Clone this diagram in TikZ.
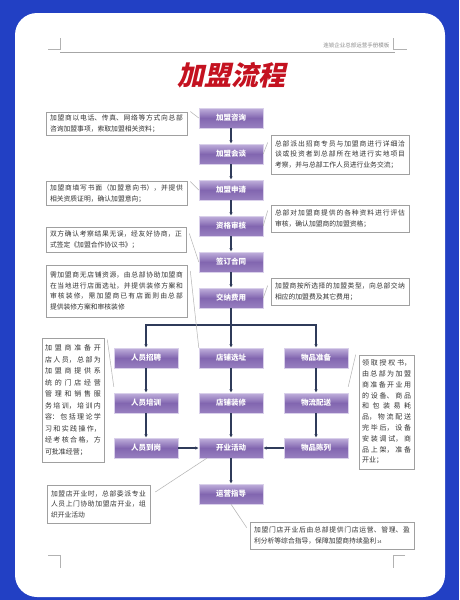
\documentclass[tikz,border=0pt]{standalone}
\usepackage{fontspec}
\setmainfont{Noto Sans CJK SC}
\newfontfamily\titlefont[FakeSlant=0.22]{Noto Sans CJK SC}
\usetikzlibrary{arrows.meta}
\XeTeXlinebreaklocale "zh"
\XeTeXlinebreakskip=0pt plus 4pt
\newcount\mycount
\newcount\mycountx
\definecolor{frameblue}{RGB}{34,64,196}
\definecolor{titlered}{RGB}{196,18,32}
\definecolor{stagetop}{RGB}{192,176,220}
\definecolor{stagemid}{RGB}{130,102,176}
\definecolor{stagebot}{RGB}{152,128,192}
\definecolor{flowline}{RGB}{47,59,90}
\definecolor{notegray}{RGB}{160,160,160}
\tikzset{
  stage/.style={draw=stagetop!60!white, line width=0.4pt, top color=stagetop,
    bottom color=stagebot, middle color=stagemid, minimum width=64pt,
    minimum height=20pt, inner sep=0pt, text=white,
    font=\fontsize{7.5}{8}\selectfont\bfseries},
  flow/.style={draw=flowline, line width=1.1pt, -{Latex[length=3.5pt,width=3.5pt]}},
  note/.style={draw=notegray, line width=0.6pt, fill=white, text=black!80,
    align=justify, inner xsep=4pt, inner ysep=3pt,
    font=\fontsize{6.8}{10.5}\selectfont},
  callout/.style={draw=notegray!80, line width=0.5pt},
  cropmark/.style={draw=black!30, line width=0.5pt},
}
\begin{document}
\begin{tikzpicture}[x=1pt,y=-1pt]
\useasboundingbox (0,0) rectangle (459,600);
\fill[frameblue] (0,0) rectangle (459,600);
\fill[white, rounded corners=22pt] (15,13) rectangle (445,597);
% page head
\draw[cropmark] (48,49) -- (60,49) (60,38) -- (60,50)
  (393,49) -- (407,49) (393,38) -- (393,50);
\draw[draw=black!35, line width=0.8pt] (60,52) -- (395,52);
\node[anchor=east, text=black!45, font=\fontsize{5.5}{6}\selectfont] (header) at (393,45) {连锁企业总部运营手册模板};
\draw[cropmark] (48,555) -- (60,555) -- (60,568)
  (405,555) -- (393,555) -- (393,568);
\node[text=titlered, font=\titlefont\bfseries\fontsize{27}{30}\selectfont] (title) at (231,75) {加盟流程};
\foreach \number/\txt in {1/加盟咨询,2/加盟会谈,3/加盟申请,4/资格审核,5/签订合同,6/交纳费用}{

        \mycount=\number
  \multiply\mycount by 36
        \advance\mycount by 82
      \node[stage] (M-\number) at (231,\the\mycount) {\txt};
    }
\foreach \row/\col/\txt in {1/1/人员招聘,1/2/店铺选址,1/3/物品准备,
    2/1/人员培训,2/2/店铺装修,2/3/物流配送,3/1/人员到岗,3/2/开业活动,3/3/物品陈列}{
        \mycountx=\col
        \advance\mycountx by -1
  \multiply\mycountx by 85
        \advance\mycountx by 146
        \mycount=\row
        \advance\mycount by -1
  \multiply\mycount by 45
        \advance\mycount by 358
      \node[stage] (G-\row-\col) at (\the\mycountx,\the\mycount) {\txt};
    }
\node[stage] (guide) at (231,494) {运营指导};
\foreach \number in {1,...,5}{
        \mycount=\number
        \advance\mycount by 1
    \path (M-\number) edge[flow] (M-\the\mycount);
}
\coordinate (split) at (231,325);
\draw[flow] (M-6) -- (G-1-2);
\draw[flow] (split) -| (G-1-1);
\draw[flow] (split) -| (G-1-3);
\foreach \col in {1,2,3}{
    \path (G-1-\col) edge[flow] (G-2-\col)
          (G-2-\col) edge[flow] (G-3-\col);
}
\path (G-3-1) edge[flow] (G-3-2)
      (G-3-3) edge[flow] (G-3-2)
      (G-3-2) edge[flow] (guide);
% notes
\node[note, text width=133pt, minimum height=23pt] (note-1) at (116.5,123.5)
  {加盟商以电话、传真、网络等方式向总部\linebreak 咨询加盟事项，索取加盟相关资料；};
\node[note, text width=130pt, minimum height=39pt] (note-2) at (340,154.5)
  {总部派出招商专员与加盟商进行详细洽\linebreak 谈或投资者到总部所在地进行实地项目\linebreak 考察，并与总部工作人员进行业务交流；};
\node[note, text width=133pt, minimum height=23pt] (note-3) at (116.5,193.5)
  {加盟商填写书面（加盟意向书），并提供\linebreak 相关资质证明，确认加盟意向；};
\node[note, text width=130pt, minimum height=27pt] (note-4) at (340,218.5)
  {总部对加盟商提供的各种资料进行评估\linebreak 审核，确认加盟商的加盟资格；};
\node[note, text width=132pt, minimum height=25pt] (note-5) at (116,239.5)
  {双方确认考察结果无误，经友好协商，正\linebreak 式签定《加盟合作协议书》；};
\node[note, text width=133pt, minimum height=52pt] (note-6) at (116.5,291)
  {需加盟商无店铺资源，由总部协助加盟商\linebreak 在当地进行店面选址，并提供装修方案和\linebreak 审核装修，需加盟商已有店面则由总部\linebreak 提供装修方案和审核装修};
\node[note, text width=130pt, minimum height=27pt] (note-7) at (340,291.5)
  {加盟商按所选择的加盟类型，向总部交纳\linebreak 相应的加盟费及其它费用；};
\node[note, inner xsep=3pt, text width=56pt, minimum height=124pt, font=\fontsize{7}{11.5}\selectfont] (note-8) at (73,400)
  {加盟商准备开\linebreak 店人员，总部为\linebreak 加盟商提供系\linebreak 统的门店经营\linebreak 管理和销售服\linebreak 务培训，培训内\linebreak 容：包括理论学\linebreak 习和实践操作，\linebreak 经考核合格，方\linebreak 可批准经营；};
\node[note, inner xsep=3pt, text width=49pt, minimum height=114pt, font=\fontsize{7}{10.8}\selectfont] (note-9) at (386.5,412)
  {领取授权书，\linebreak 由总部为加盟\linebreak 商准备开业用\linebreak 的设备、商品\linebreak 和包装易耗\linebreak 品，物流配送\linebreak 完毕后，设备\linebreak 安装调试，商\linebreak 品上架，准备\linebreak 开业；};
\node[note, text width=95pt, minimum height=38pt] (note-10) at (98.5,504)
  {加盟店开业时，总部委派专业\linebreak 人员上门协助加盟店开业，组\linebreak 织开业活动};
\node[note, text width=156pt, minimum height=27pt] (note-11) at (332,535.5)
  {加盟门店开业后由总部提供门店运营、管理、盈\linebreak 利分析等综合指导，保障加盟商持续盈利{\fontsize{4}{4}\selectfont\,14}};
\draw[callout] ([xshift=3pt]note-1.north east) -- (M-1.west);
\draw[callout] (M-2.east) -- ([shift={(-3pt,12pt)}]note-2.west);
\draw[callout] ([xshift=3pt]note-3.north east) -- (M-3.west);
\draw[callout] (M-4.east) -- ([shift={(-3pt,8pt)}]note-4.west);
\draw[callout] ([shift={(3pt,6pt)}]note-5.east) -- (M-5.west);
\draw[callout] ([shift={(3pt,20pt)}]note-6.east) -- (G-1-2.north west);
\draw[callout] (M-6.east) -- ([shift={(-3pt,6pt)}]note-7.west);
\draw[callout] ([shift={(3pt,-2pt)}]note-8.north east) -- ([yshift=6pt]G-2-1.north west);
\draw[callout] ([xshift=-3pt]note-9.north west) -- ([yshift=6pt]G-2-3.north east);
\draw[callout] ([shift={(5pt,12pt)}]note-10.east) -- ([xshift=8pt]G-3-2.south west);
\draw[callout] (guide.south) -- ([shift={(-3pt,-6pt)}]note-11.north west);
\end{tikzpicture}
\end{document}
